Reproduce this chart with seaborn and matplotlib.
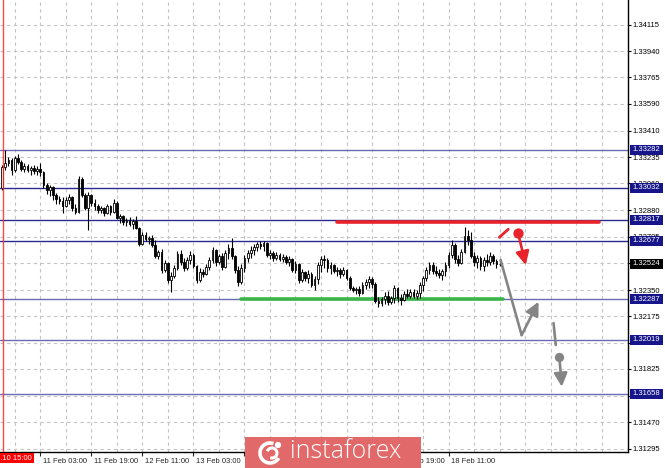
import matplotlib
matplotlib.use("Agg")
import matplotlib.pyplot as plt
import numpy as np
import pandas as pd
import seaborn as sns
from matplotlib.patches import Rectangle, Arc, Circle
from matplotlib.transforms import ScaledTranslation, blended_transform_factory

# ---------------- data (GBPUSD H1) ----------------
first_open = 1.33029
closes = [
    1.33169, 1.33195, 1.33215, 1.33148, 1.33228, 1.33202, 1.33155, 1.33175, 1.33148, 1.33162,
    1.33141, 1.33155, 1.33135, 1.33049, 1.33015, 1.33036, 1.32982, 1.32955, 1.32942, 1.32909,
    1.32949, 1.32969, 1.32896, 1.32869, 1.33088, 1.32982, 1.32896, 1.32982, 1.32929, 1.32909,
    1.32882, 1.32896, 1.32862, 1.32909, 1.32869, 1.32929, 1.32829, 1.32842, 1.32803, 1.32816,
    1.32789, 1.32809, 1.32762, 1.32656, 1.32716, 1.32689, 1.32696, 1.32649, 1.32576, 1.32603,
    1.32483, 1.32529, 1.32416, 1.32443, 1.32496, 1.32589, 1.32536, 1.32496, 1.32549, 1.32583,
    1.32509, 1.32416, 1.32470, 1.32456, 1.32503, 1.32549, 1.32616, 1.32536, 1.32576, 1.32503,
    1.32596, 1.32629, 1.32576, 1.32483, 1.32403, 1.32496, 1.32563, 1.32596, 1.32616, 1.32636,
    1.32656, 1.32642, 1.32663, 1.32583, 1.32596, 1.32563, 1.32583, 1.32556, 1.32570, 1.32536,
    1.32556, 1.32483, 1.32522, 1.32416, 1.32470, 1.32430, 1.32456, 1.32383, 1.32423, 1.32516,
    1.32556, 1.32549, 1.32496, 1.32516, 1.32476, 1.32483, 1.32456, 1.32483, 1.32430, 1.32363,
    1.32350, 1.32356, 1.32330, 1.32383, 1.32403, 1.32423, 1.32389, 1.32276, 1.32263, 1.32290,
    1.32310, 1.32270, 1.32297, 1.32363, 1.32297, 1.32283, 1.32323, 1.32310, 1.32337, 1.32310,
    1.32330, 1.32383, 1.32430, 1.32483, 1.32516, 1.32476, 1.32463, 1.32450, 1.32476, 1.32516,
    1.32583, 1.32649, 1.32556, 1.32529, 1.32603, 1.32709, 1.32683, 1.32576, 1.32536, 1.32563,
    1.32509, 1.32549, 1.32536, 1.32576, 1.32542, 1.32522, 1.32524,
]
highs = [
    1.33182, 1.33282, 1.33235, 1.33228, 1.33241, 1.33255, 1.33215, 1.33195, 1.33188, 1.33175,
    1.33182, 1.33175, 1.33195, 1.33141, 1.33062, 1.33049, 1.33042, 1.32995, 1.32975, 1.32969,
    1.32969, 1.32988, 1.32975, 1.32922, 1.33108, 1.33102, 1.32995, 1.33002, 1.32988, 1.32955,
    1.32922, 1.32909, 1.32903, 1.32922, 1.32916, 1.32955, 1.32942, 1.32855, 1.32849, 1.32829,
    1.32836, 1.32822, 1.32842, 1.32769, 1.32736, 1.32736, 1.32709, 1.32716, 1.32683, 1.32616,
    1.32622, 1.32549, 1.32536, 1.32470, 1.32516, 1.32609, 1.32616, 1.32563, 1.32570, 1.32609,
    1.32596, 1.32516, 1.32496, 1.32489, 1.32522, 1.32570, 1.32636, 1.32622, 1.32589, 1.32596,
    1.32616, 1.32656, 1.32696, 1.32583, 1.32509, 1.32522, 1.32583, 1.32616, 1.32642, 1.32656,
    1.32670, 1.32676, 1.32676, 1.32670, 1.32616, 1.32609, 1.32603, 1.32596, 1.32589, 1.32583,
    1.32576, 1.32563, 1.32542, 1.32529, 1.32489, 1.32476, 1.32483, 1.32470, 1.32443, 1.32536,
    1.32576, 1.32583, 1.32563, 1.32536, 1.32522, 1.32503, 1.32496, 1.32503, 1.32489, 1.32443,
    1.32376, 1.32370, 1.32376, 1.32403, 1.32423, 1.32443, 1.32437, 1.32403, 1.32304, 1.32304,
    1.32337, 1.32343, 1.32310, 1.32383, 1.32370, 1.32323, 1.32343, 1.32356, 1.32356, 1.32356,
    1.32350, 1.32403, 1.32443, 1.32503, 1.32536, 1.32536, 1.32509, 1.32489, 1.32489, 1.32536,
    1.32603, 1.32683, 1.32663, 1.32583, 1.32622, 1.32769, 1.32749, 1.32736, 1.32603, 1.32583,
    1.32576, 1.32570, 1.32589, 1.32603, 1.32589, 1.32556, 1.32542,
]
lows = [
    1.33015, 1.33148, 1.33175, 1.33115, 1.33135, 1.33188, 1.33141, 1.33135, 1.33135, 1.33115,
    1.33121, 1.33115, 1.33108, 1.33029, 1.32988, 1.32975, 1.32949, 1.32922, 1.32922, 1.32862,
    1.32903, 1.32922, 1.32875, 1.32855, 1.32862, 1.32969, 1.32882, 1.32749, 1.32909, 1.32882,
    1.32862, 1.32862, 1.32842, 1.32855, 1.32849, 1.32862, 1.32822, 1.32796, 1.32782, 1.32775,
    1.32775, 1.32755, 1.32755, 1.32642, 1.32649, 1.32676, 1.32656, 1.32636, 1.32563, 1.32556,
    1.32463, 1.32470, 1.32396, 1.32337, 1.32430, 1.32483, 1.32516, 1.32476, 1.32483, 1.32522,
    1.32496, 1.32396, 1.32403, 1.32437, 1.32450, 1.32483, 1.32529, 1.32509, 1.32522, 1.32483,
    1.32496, 1.32556, 1.32556, 1.32463, 1.32376, 1.32389, 1.32470, 1.32536, 1.32563, 1.32583,
    1.32609, 1.32622, 1.32609, 1.32570, 1.32556, 1.32542, 1.32549, 1.32542, 1.32536, 1.32522,
    1.32509, 1.32470, 1.32463, 1.32396, 1.32403, 1.32409, 1.32396, 1.32370, 1.32350, 1.32389,
    1.32470, 1.32496, 1.32470, 1.32456, 1.32463, 1.32443, 1.32430, 1.32443, 1.32416, 1.32350,
    1.32337, 1.32323, 1.32310, 1.32323, 1.32356, 1.32363, 1.32363, 1.32263, 1.32237, 1.32243,
    1.32256, 1.32250, 1.32256, 1.32263, 1.32270, 1.32250, 1.32276, 1.32297, 1.32297, 1.32297,
    1.32290, 1.32297, 1.32343, 1.32409, 1.32456, 1.32456, 1.32443, 1.32430, 1.32416, 1.32443,
    1.32496, 1.32563, 1.32529, 1.32509, 1.32522, 1.32596, 1.32649, 1.32563, 1.32509, 1.32496,
    1.32483, 1.32476, 1.32509, 1.32516, 1.32522, 1.32496, 1.32509,
]

level_values = [1.33282, 1.33032, 1.32817, 1.32677, 1.32287, 1.32019, 1.31658]
current_price = 1.32524
ytick_values = [1.34115, 1.33940, 1.33765, 1.33590, 1.33410, 1.33235, 1.33060, 1.32880,
                1.32705, 1.32530, 1.32350, 1.32175, 1.32000, 1.31825, 1.31645, 1.31470, 1.31295]
ytick_hidden = [1.32530, 1.31645]
date_ticks = [12, 28, 44, 60, 76, 92, 108, 124, 140]
date_labels = ["11 Feb 03:00", "11 Feb 19:00", "12 Feb 11:00", "13 Feb 03:00", "",
               "", "", "17 Feb 19:00", "18 Feb 11:00"]
cursor_label = "2020.02.10 15:00"

resistance_bars = [105, 187]
resistance_price = 1.32800
support_bars = [75, 157]
support_price = 1.32290

gray_path_bars = [156.3, 162.9]
gray_path_prices = [1.32550, 1.32050]
gray_rebound_end = (168.2, 1.32272)
gray_tail_bars = [172.9, 173.6]
gray_tail_prices = [1.32130, 1.31984]
gray_dot = (174.7, 1.31906)
gray_arrow_end = (175.5, 1.31706)
red_tail_bars = [155.9, 158.7]
red_tail_prices = [1.32701, 1.32754]
red_dot = (161.8, 1.32727)
red_arrow_end = (164.2, 1.32516)

# ---------------- figure ----------------
sns.set_style("white")
plt.rcParams["font.family"] = ["Liberation Sans", "DejaVu Sans"]
FS = 5.5

W, H = 665, 468
fig = plt.figure(figsize=(W / 100, H / 100), dpi=100)
fig.patch.set_facecolor("white")
ax = fig.add_axes([0, 16 / H, 628 / W, 452 / H])
ax.set_facecolor("white")

df = pd.DataFrame({
    "bar": np.arange(len(closes)),
    "open": [first_open] + closes[:-1],
    "high": highs, "low": lows, "close": closes,
})
df["bull"] = df["close"] >= df["open"]
df["bottom"] = df[["open", "close"]].min(axis=1)
df["body"] = (df["close"] - df["open"]).abs().clip(lower=0.00002)

ax.set_xlim(-0.63, 196.24)
ax.set_ylim(1.31272, 1.34280)

# grid
grid_kw = dict(color="#c4c4c4", lw=0.8, ls=(0, (3, 3)), zorder=0)
for gx in range(4, 196, 8):
    ax.axvline(gx, **grid_kw)
ax.set_yticks(ytick_values)
ax.set_yticklabels(["" if v in ytick_hidden else f"{v:.5f}" for v in ytick_values])
ax.grid(axis="y", **{k: v for k, v in grid_kw.items() if k != "zorder"})
ax.set_axisbelow(True)

# levels
for lv in level_values:
    col = "#2a2a92" if lv in (1.33032, 1.32817, 1.32677) else "#6a6ab6"
    ax.axhline(lv, color=col, lw=1.0, zorder=1)

sns.lineplot(x=support_bars, y=[support_price] * 2, color="#3bb54a", lw=2.6, ax=ax, legend=False, zorder=2)
sns.lineplot(x=resistance_bars, y=[resistance_price] * 2, color="#e8232b", lw=2.6, ax=ax, legend=False, zorder=2)

# candles
ax.vlines(df["bar"], df["low"], df["high"], color="black", lw=0.8, zorder=3)
ax.bar(df["bar"], df["body"], bottom=df["bottom"], width=0.55,
       color=np.where(df["bull"], "white", "black"), edgecolor="black", linewidth=0.6, zorder=4)

ax.axvline(0.3, color="#ff2a2a", lw=1.0, alpha=0.85, zorder=6)

# forecast drawings
gray = "#858585"
ax.plot(gray_path_bars, gray_path_prices, color=gray, lw=1.9, solid_capstyle="round", zorder=7)
ax.annotate("", xy=gray_rebound_end, xytext=(gray_path_bars[-1], gray_path_prices[-1]),
            arrowprops=dict(arrowstyle="-|>,head_length=0.8,head_width=0.4", color=gray, lw=1.9,
                            mutation_scale=10, shrinkA=0, shrinkB=0), zorder=7)
ax.plot(gray_tail_bars, gray_tail_prices, color=gray, lw=1.9, zorder=7)
ax.scatter([gray_dot[0]], [gray_dot[1]], s=45, color=gray, zorder=8, linewidths=0)
ax.annotate("", xy=gray_arrow_end, xytext=gray_dot,
            arrowprops=dict(arrowstyle="-|>,head_length=0.8,head_width=0.4", color=gray, lw=1.9,
                            mutation_scale=10, shrinkA=3, shrinkB=0), zorder=7)
red = "#e8232b"
ax.plot(red_tail_bars, red_tail_prices, color=red, lw=2.0, zorder=7)
ax.scatter([red_dot[0]], [red_dot[1]], s=55, color=red, zorder=8, linewidths=0)
ax.annotate("", xy=red_arrow_end, xytext=red_dot,
            arrowprops=dict(arrowstyle="-|>,head_length=0.8,head_width=0.4", color=red, lw=1.9,
                            mutation_scale=10, shrinkA=3, shrinkB=0), zorder=7)

# axes styling
for s in ("left", "top"):
    ax.spines[s].set_visible(False)
for s in ("right", "bottom"):
    ax.spines[s].set_color("black")
    ax.spines[s].set_linewidth(1.0)
ax.yaxis.tick_right()
ax.tick_params(axis="y", which="major", right=True, left=False, labelright=True, labelleft=False,
               length=2, width=0.8, pad=1, labelsize=FS, colors="black")
ax.set_xticks(date_ticks)
ax.set_xticklabels(date_labels)
ax.tick_params(axis="x", which="major", bottom=True, length=3, width=0.8, pad=1.5, labelsize=FS)
offset = ScaledTranslation(2 / 72, 0, fig.dpi_scale_trans)
for lab in ax.get_xticklabels():
    lab.set_ha("left")
    lab.set_transform(lab.get_transform() + offset)

# price boxes on the right axis
btr = blended_transform_factory(ax.transAxes, ax.transData)
box_h = 10 / 15025
for lv, fc in [(v, "#16168a") for v in level_values] + [(current_price, "black")]:
    ax.add_patch(Rectangle((630 / 628, lv - box_h / 2), 33 / 628, box_h, transform=btr,
                           facecolor=fc, edgecolor="none", clip_on=False, zorder=20))
    ax.text(632.5 / 628, lv, f"{lv:.5f}", transform=btr, ha="left", va="center",
            color="white", fontsize=FS, clip_on=False, zorder=21)

# cursor time box
fig.text(32 / W, (H - 458) / H, cursor_label, ha="right", va="center", color="white", fontsize=FS,
         bbox=dict(boxstyle="square,pad=0.25", fc="#ff0000", ec="none"))

# watermark logo
lax = fig.add_axes([245 / W, 0, 176 / W, 31 / H])
lax.set_xlim(0, 176)
lax.set_ylim(0, 31)
lax.axis("off")
lax.add_patch(Rectangle((0, 0), 176, 31, facecolor="#e2696a", edgecolor="none"))
lax.add_patch(Arc((25, 15), 20, 20, theta1=70, theta2=330, color="white", lw=2.6))
lax.add_patch(Arc((27, 15), 10, 10, theta1=250, theta2=160, color="white", lw=2.2))
lax.add_patch(Circle((33, 23), 2.4, color="white"))
lax.text(45, 16, "instaforex", color="white", fontsize=18, ha="left", va="center",
         family=["Open Sans", "DejaVu Sans"], fontweight="light")

fig.savefig("out.png", dpi=100)
